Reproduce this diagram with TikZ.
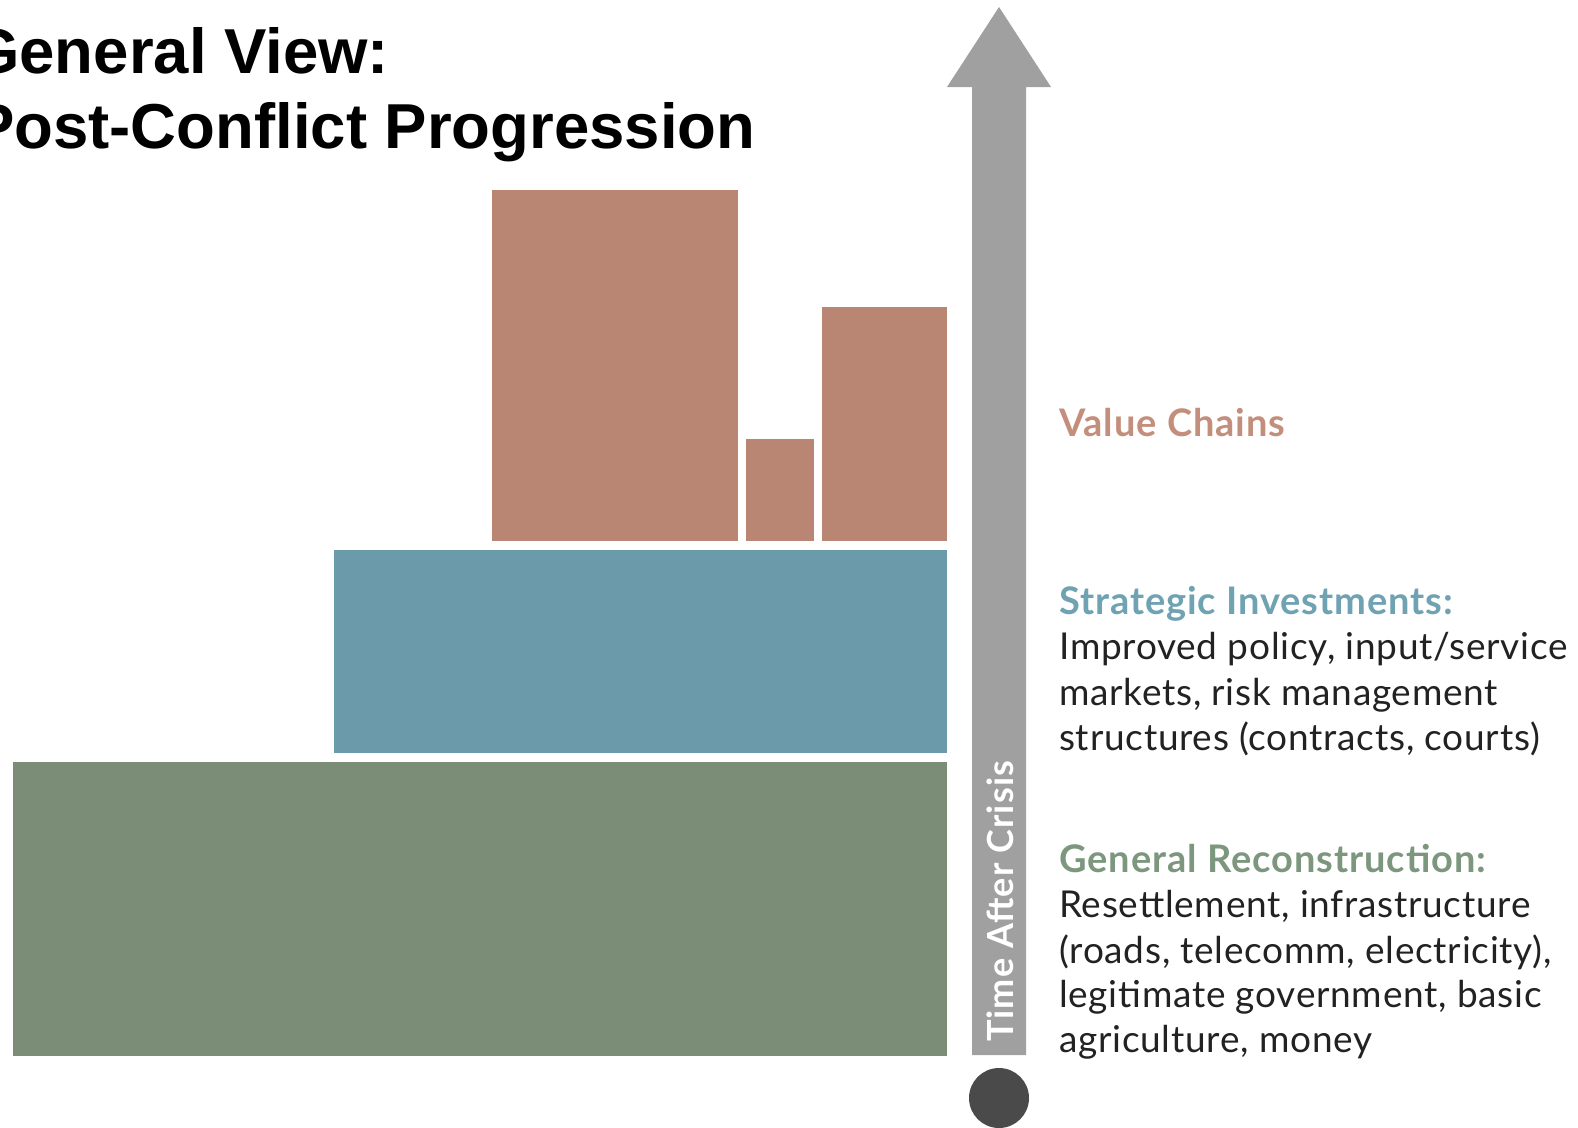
\documentclass[tikz,border=0pt]{standalone}
\usepackage{fontspec}
\setmainfont{Lato}
\newfontfamily\titlefont{Liberation Sans}
\newfontfamily\bodyfont[LetterSpace=2.0]{Lato}
\newfontfamily\headfont[LetterSpace=2.5]{Lato Bold}
\newfontfamily\timefont[LetterSpace=3.0]{Lato Bold}
\definecolor{vcbrown}{HTML}{BA8674}
\definecolor{sibl}{HTML}{6B9BAB}
\definecolor{grgreen}{HTML}{7B8D76}
\definecolor{vchead}{HTML}{C48E7C}
\definecolor{sihead}{HTML}{6FA2B3}
\definecolor{grhead}{HTML}{7D977F}
\definecolor{bodytext}{HTML}{222222}
\definecolor{arrowgray}{HTML}{A0A0A0}
\definecolor{dotgray}{HTML}{4A4A4A}
\tikzset{
  txt/.style={anchor=base west, inner sep=0pt, text=bodytext, font=\bodyfont\fontsize{37}{44}\selectfont},
  head/.style={anchor=base west, inner sep=0pt, font=\headfont\fontsize{38}{44}\selectfont},
  ttl/.style={anchor=base west, inner sep=0pt, text=black, font=\titlefont\bfseries\fontsize{63.5}{75}\selectfont},
}
\begin{document}
\begin{tikzpicture}[x=1pt,y=-1pt]
\useasboundingbox (0,0) rectangle (1578,1127);
\fill[white] (0,0) rectangle (1578,1127);
% title
\node[ttl] (t1) at (-30,73) {General View:};
\node[ttl] (t2) at (-28,148) {Post-Conflict Progression};
% blocks
\fill[grgreen] (13,762) rectangle (947,1056);
\fill[sibl] (334,550) rectangle (947,753);
\fill[vcbrown] (492,190) rectangle (738,541);
\fill[vcbrown] (746,439) rectangle (814,541);
\fill[vcbrown] (822,307) rectangle (947,541);
% time arrow
\fill[arrowgray] (972,1055) -- (1026,1055) -- (1026,87) -- (1051,87) -- (999,7) -- (947,87) -- (972,87) -- cycle;
\node[rotate=90, anchor=base west, inner sep=0pt, text=white, font=\timefont\fontsize{36}{42}\selectfont] (time) at (1013,1042) {Time After Crisis};
\fill[dotgray] (999,1098) circle (30);
% labels
\node[head, text=vchead] (vc) at (1059,436) {Value Chains};
\node[head, text=sihead] (si) at (1059,614) {Strategic Investments:};
\node[txt] (si1) at (1059,659) {Improved policy, input/service};
\node[txt] (si2) at (1059,705) {markets, risk management};
\node[txt] (si3) at (1059,750) {structures (contracts, courts)};
\node[head, text=grhead] (gr) at (1059,872) {General Reconstruction:};
\node[txt] (gr1) at (1059,917) {Resettlement, infrastructure};
\node[txt] (gr2) at (1059,963) {(roads, telecomm, electricity),};
\node[txt] (gr3) at (1059,1007) {legitimate government, basic};
\node[txt] (gr4) at (1059,1052) {agriculture, money};
\end{tikzpicture}
\end{document}
